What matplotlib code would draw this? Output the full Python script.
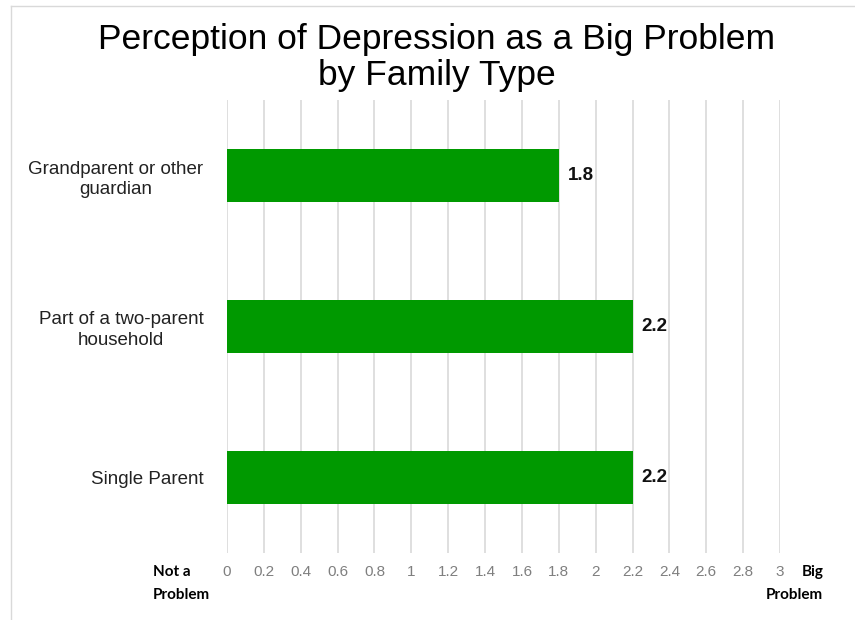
import matplotlib.pyplot as plt
from matplotlib.lines import Line2D

# family types, bottom to top
categories = ["Single Parent", "Part of a two-parent\nhousehold", "Grandparent or other\nguardian"]
scores = [2.2, 2.2, 1.8]
ticks = [0, 0.2, 0.4, 0.6, 0.8, 1, 1.2, 1.4, 1.6, 1.8, 2, 2.2, 2.4, 2.6, 2.8, 3]
tick_labels = ["0", "0.2", "0.4", "0.6", "0.8", "1", "1.2", "1.4", "1.6", "1.8",
               "2", "2.2", "2.4", "2.6", "2.8", "3"]

plt.rcParams["font.family"] = ["Liberation Sans", "DejaVu Sans"]

fig = plt.figure(figsize=(8.55, 6.2), dpi=100)
ax = fig.add_axes([0.2655, 0.1081, 0.6468, 0.7306])

ypos = range(len(categories))
ax.barh(ypos, scores, height=0.35, color="#009900", zorder=2)
for y, v in zip(ypos, scores):
    ax.text(v + 0.05, y, f"{v:.1f}", va="center", ha="left",
            fontsize=13.5, fontweight="bold", color="#111111")

ax.set_xlim(0, 3)
ax.set_ylim(-0.5, 2.5)
ax.set_xticks(ticks)
ax.set_xticklabels(tick_labels, fontsize=11, color="#7f7f7f")
ax.set_yticks(list(ypos))
ax.set_yticklabels(categories, fontsize=13.5, color="#222222",
                   multialignment="center", linespacing=1.3)
ax.tick_params(axis="x", length=0, pad=9)
ax.tick_params(axis="y", length=0, pad=17)
for x in ticks:
    ax.axvline(x, color="#d9d9d9", linewidth=1.2, zorder=1)
for s in ax.spines.values():
    s.set_visible(False)

fig.text(0.511, 0.907, "Perception of Depression as a Big Problem\nby Family Type",
         ha="center", va="center", fontsize=25.5, linespacing=1.1)

# scale end captions, one word group per line
end_font = dict(fontsize=11, fontweight="bold", family=["Lato", "DejaVu Sans"], va="center")
fig.text(0.179, 0.077, "Not a", ha="left", **end_font)
fig.text(0.179, 0.041, "Problem", ha="left", **end_font)
fig.text(0.963, 0.077, "Big", ha="right", **end_font)
fig.text(0.963, 0.041, "Problem", ha="right", **end_font)

# thin frame along the top and left edges
fig.add_artist(Line2D([0.013, 1.0], [0.99, 0.99], color="#d9d9d9", linewidth=1))
fig.add_artist(Line2D([0.013, 0.013], [0.0, 0.99], color="#d9d9d9", linewidth=1))

fig.savefig("out.png", dpi=100)
